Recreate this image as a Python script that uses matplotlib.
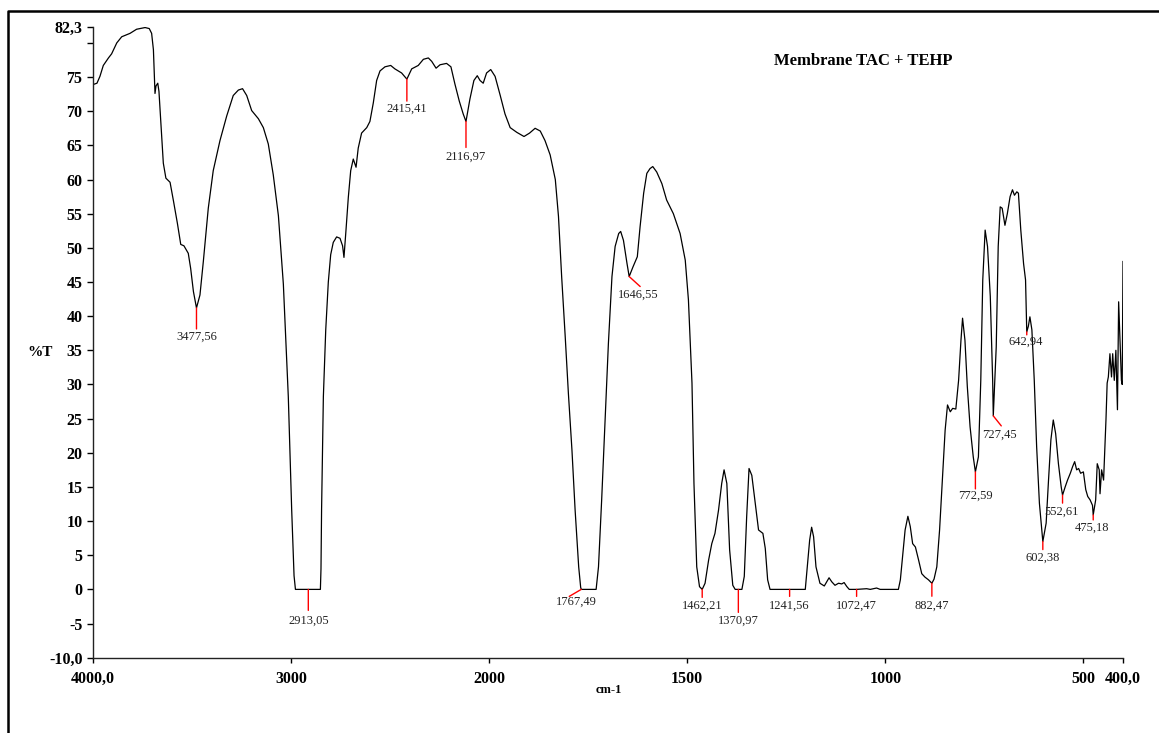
import numpy as np
import matplotlib
matplotlib.use('Agg')
import matplotlib.pyplot as plt
from matplotlib.lines import Line2D

# spectrum (wavenumber in cm-1, transmittance in %)
wavenumber = [
    4000, 3980, 3965, 3948, 3922, 3906, 3880, 3855, 3813, 3780, 3737, 3716, 3704, 3695, 3687, 3682,
    3673, 3667, 3658, 3645, 3632, 3611, 3594, 3574, 3557, 3541, 3519, 3507, 3493, 3477.56, 3460, 3443,
    3418, 3393, 3359, 3325, 3292, 3266, 3245, 3224, 3199, 3165, 3140, 3115, 3090, 3064, 3039, 3014,
    2997, 2985, 2978, 2913.05, 2852, 2849, 2846, 2837, 2825, 2812, 2800, 2787, 2770, 2753, 2740, 2733,
    2723, 2711, 2699, 2686, 2672, 2661, 2644, 2618, 2602, 2585, 2568, 2551, 2526, 2497, 2476, 2442,
    2415.41, 2391, 2358, 2332, 2307, 2290, 2268, 2248, 2215, 2193, 2173, 2151, 2131, 2116.97, 2097, 2077,
    2060, 2046, 2030, 2013, 1996, 1985, 1972, 1960, 1947, 1930, 1912, 1898, 1884, 1871, 1859, 1846,
    1833, 1825, 1817, 1808, 1800, 1791, 1783, 1774, 1769, 1767.49, 1730, 1724, 1716, 1707, 1699, 1690,
    1682, 1673, 1668, 1661, 1652, 1646.55, 1637, 1626, 1619, 1610, 1602, 1594, 1587, 1577, 1564, 1552,
    1535, 1518, 1505, 1497, 1488, 1483, 1476, 1469, 1462.21, 1455, 1446, 1438, 1430, 1421, 1413, 1407,
    1400, 1393, 1385, 1379, 1370.97, 1362, 1356, 1350, 1344, 1337, 1326, 1320, 1309, 1303, 1297, 1291,
    1241.56, 1202, 1197, 1191, 1186, 1181, 1175, 1165, 1154, 1148, 1142, 1135, 1127, 1118, 1110, 1104,
    1097, 1091, 1072.47, 1047, 1038, 1022, 1013, 967, 962, 958, 950, 943, 937, 931, 924, 916,
    908, 900, 891, 882.47, 877, 870, 863, 855, 849, 843, 836, 830, 822, 815, 809, 805,
    799, 793, 786, 778, 772.59, 765, 759, 754, 748, 742, 735, 729, 727.45, 720, 715, 710,
    705, 698, 692, 685, 679, 674, 668, 664, 658, 651, 646, 642.94, 639, 635, 630, 624,
    618, 611, 605, 602.38, 594, 588, 582, 576, 570, 563, 556, 552.61, 546, 540, 533, 527,
    522, 517, 512, 507, 500, 494, 489, 483, 477, 475.18, 469, 465, 460, 458, 454, 449,
    443, 440, 437, 433, 429, 426, 422, 418, 414, 411, 407, 404, 402, 400,
]
transmittance = [
    73.9, 74.1, 75.1, 76.7, 77.8, 78.4, 80.0, 80.9, 81.4, 82.0, 82.25, 82.1, 81.4, 79.0, 72.6, 73.7,
    74.1, 72.9, 68.5, 62.4, 60.2, 59.6, 56.9, 53.6, 50.5, 50.3, 49.2, 47.0, 43.6, 41.2, 43.1, 48.0,
    55.8, 61.3, 65.7, 69.3, 72.3, 73.1, 73.3, 72.3, 70.1, 68.9, 67.6, 65.2, 60.7, 54.7, 44.7, 28.2,
    11.7, 2.0, 0.0, 0.0, 0.0, 3.0, 11.7, 28.2, 38.0, 45.0, 49.0, 50.8, 51.6, 51.4, 50.3, 48.6,
    52.5, 57.4, 61.3, 63.0, 61.8, 64.6, 66.8, 67.6, 68.5, 71.2, 74.5, 75.9, 76.5, 76.7, 76.2, 75.6,
    74.7, 76.2, 76.7, 77.6, 77.8, 77.3, 76.3, 76.8, 77.0, 76.5, 74.0, 71.5, 69.6, 68.5, 71.8, 74.5,
    75.2, 74.5, 74.1, 75.6, 76.1, 75.1, 72.3, 69.6, 67.6, 66.9, 66.3, 66.8, 67.5, 67.1, 65.7, 63.6,
    60.0, 54.6, 45.8, 37.0, 28.7, 20.4, 11.6, 3.3, 0.3, 0.0, 0.0, 3.3, 13.1, 25.3, 36.0, 45.8,
    50.2, 52.1, 52.4, 51.1, 47.7, 45.8, 47.2, 48.7, 53.1, 58.0, 60.9, 61.6, 61.9, 61.1, 59.4, 57.0,
    55.0, 52.1, 48.2, 42.4, 30.2, 15.5, 3.3, 0.4, 0.0, 0.9, 4.3, 6.7, 8.2, 11.6, 15.5, 17.5,
    15.5, 5.8, 0.6, 0.0, 0.0, 0.0, 1.9, 10.6, 17.7, 16.7, 11.6, 8.7, 8.2, 6.0, 1.4, 0.0,
    0.0, 0.0, 3.3, 7.2, 9.1, 7.7, 3.3, 0.9, 0.5, 1.1, 1.7, 1.1, 0.6, 0.9, 0.8, 1.0,
    0.4, 0.0, 0.0, 0.1, 0.0, 0.2, 0.0, 0.0, 1.4, 3.8, 8.7, 10.7, 9.2, 6.7, 6.2, 4.3,
    2.3, 1.8, 1.4, 0.9, 1.5, 3.3, 8.7, 17.0, 23.3, 27.0, 26.0, 26.5, 26.4, 30.6, 36.5, 39.7,
    36.5, 29.7, 23.8, 19.4, 17.2, 19.4, 30.6, 45.3, 52.6, 50.2, 42.9, 30.6, 25.4, 35.5, 50.2, 56.0,
    55.8, 53.3, 55.0, 57.5, 58.5, 57.7, 58.2, 58.0, 52.6, 47.7, 45.3, 37.7, 38.5, 39.9, 38.0, 30.6,
    20.9, 12.6, 8.7, 7.0, 9.7, 16.0, 21.9, 24.8, 22.8, 18.4, 15.0, 13.8, 15.0, 16.0, 17.0, 18.0,
    18.7, 17.5, 17.7, 17.0, 17.2, 14.6, 13.6, 13.1, 12.3, 10.9, 13.1, 18.4, 17.5, 14.0, 17.5, 16.0,
    24.8, 30.2, 31.1, 34.5, 31.1, 34.5, 30.6, 35.0, 26.3, 42.1, 35.5, 30.6, 30.0, 48.0,
]

peak_wn = [3477.56, 2913.05, 2415.41, 2116.97, 1767.49, 1646.55, 1462.21, 1370.97,
           1241.56, 1072.47, 882.47, 772.59, 727.45, 642.94, 602.38, 552.61, 475.18]
peak_labels = ['3477,56', '2913,05', '2415,41', '2116,97', '1767,49', '1646,55', '1462,21', '1370,97',
               '1241,56', '1072,47', '882,47', '772,59', '727,45', '642,94', '602,38', '552,61', '475,18']
# (line dx, line dy, text dx, text dy) in pixels
peak_offsets = [(0, -21, 0, -29), (0, -21, 0, -31), (0, -22, 0, -30), (0, -26, 0, -35),
                (-12, -7, -5, -12), (11, -10, 9, -18), (0, -8, 0, -16), (0, -23, 0, -31),
                (0, -7, 0, -16), (0, -7, 0, -16), (0, -13, 0, -22), (0, -17, 0, -24),
                (8, -10, 6, -19), (0, -3, -1, -10), (0, -8, 0, -16), (0, -8, -1, -17),
                (0, -5, -1, -13)]

x_ticks = [4000, 3000, 2000, 1500, 1000, 500, 400]
x_ticklabels = ['4000,0', '3000', '2000', '1500', '1000', '500', '400,0']
y_ticks = [82.3, 80, 75, 70, 65, 60, 55, 50, 45, 40, 35, 30, 25, 20, 15, 10, 5, 0, -5, -10]
y_ticklabels = ['82,3', '', '75', '70', '65', '60', '55', '50', '45', '40', '35', '30',
                '25', '20', '15', '10', '5', '0', '-5', '-10,0']


def fwd(x):
    x = np.asarray(x, dtype=float)
    return np.where(x > 2000, 2000 + (x - 2000) / 2.0, x)


def inv(u):
    u = np.asarray(u, dtype=float)
    return np.where(u > 2000, 2000 + (u - 2000) * 2.0, u)


plt.rcParams['font.family'] = ['Liberation Serif', 'DejaVu Serif']

W, H = 1159, 733
fig = plt.figure(figsize=(W / 100, H / 100), dpi=100)
ax = fig.add_axes([93 / W, 1 - 657.7 / H, (1123 - 93) / W, (657.7 - 27.2) / H])
ax.set_xscale('function', functions=(fwd, inv))

ax.plot(wavenumber, transmittance, color='black', lw=0.9)
ax.set_xlim(4000, 400)
ax.set_ylim(-10, 82.3)

wn_arr = np.array(wavenumber)[::-1]
t_arr = np.array(transmittance)[::-1]
for w, lab, (ldx, ldy, tdx, tdy) in zip(peak_wn, peak_labels, peak_offsets):
    t = np.interp(w, wn_arr, t_arr)
    ax.annotate('', xy=(w, t), xytext=(ldx, ldy), textcoords='offset pixels',
                arrowprops=dict(arrowstyle='-', color='red', lw=1.0, shrinkA=0, shrinkB=0))
    ax.annotate(lab, xy=(w, t), xytext=(tdx, tdy), textcoords='offset pixels',
                ha='center', va='center', fontsize=9, color='#222222')

ax.set_xticks(x_ticks)
ax.set_xticklabels(x_ticklabels, fontweight='bold', fontsize=11.5)
ax.set_yticks(y_ticks)
ax.set_yticklabels(y_ticklabels, fontweight='bold', fontsize=11.5)
ax.minorticks_off()
ax.tick_params(axis='y', direction='out', length=4, width=1, pad=3.5)
ax.tick_params(axis='x', direction='out', length=3.5, width=1, pad=6)

ax.spines['top'].set_visible(False)
ax.spines['right'].set_visible(False)
for s in ['left', 'bottom']:
    ax.spines[s].set_linewidth(1)
    ax.spines[s].set_color('#222222')

fig.text(40 / W, 1 - 352 / H, '%T', ha='center', va='center', fontweight='bold', fontsize=11)
fig.text(609 / W, 1 - 690 / H, 'cm-1', ha='center', va='center', fontweight='bold', fontsize=9)
fig.text(863 / W, 1 - 61 / H, 'Membrane TAC + TEHP', ha='center', va='center',
         fontweight='bold', fontsize=12)

# outer frame (left and top edges visible)
fig.add_artist(Line2D([8 / W, 8 / W, 1.0], [0, 1 - 11 / H, 1 - 11 / H],
                      transform=fig.transFigure, color='black', lw=1.8))

fig.savefig('out.png', dpi=100)
